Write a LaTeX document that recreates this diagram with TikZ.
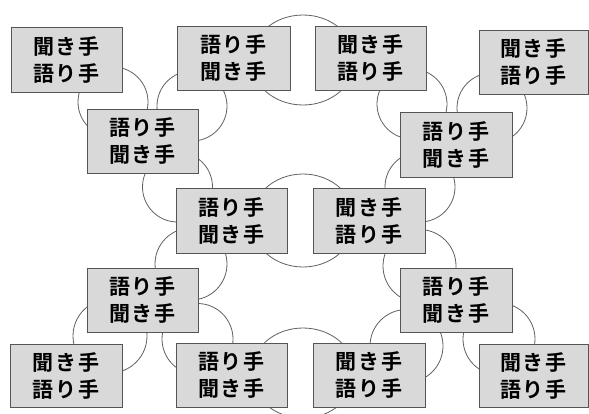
\documentclass[tikz,border=0pt]{standalone}
\usepackage{fontspec}
\newfontfamily\jpfont[LetterSpace=8]{Noto Sans CJK JP Bold}
\definecolor{boxfill}{HTML}{D9D9D9}
\definecolor{boxline}{HTML}{555555}
\definecolor{loopline}{HTML}{606060}
\tikzset{
  pairbox/.style={draw=boxline, line width=1pt, fill=boxfill, align=center,
    font=\jpfont\fontsize{21pt}{27pt}\selectfont, inner sep=0pt, text=black},
  looparc/.style={draw=loopline, line width=0.8pt},
}
\newcommand{\pbox}[6]{% name, x1, y1, x2, y2, text
  \node[pairbox, minimum width={#4-#2}, minimum height={#5-#3}] (#1) at ({(#2+#4)/2},{(#3+#5)/2}) {#6};}
\begin{document}
\begin{tikzpicture}[x=1pt,y=-1pt]
\useasboundingbox (0,0) rectangle (589,413);
% loops and rings (behind the boxes)
\draw[looparc] (303,60) ellipse [x radius=52, y radius=45];
\draw[looparc] (303,220.5) ellipse [x radius=52, y radius=46.5];
\draw[looparc] (303,373) ellipse [x radius=52, y radius=45];
\draw[looparc] (113,102) circle [radius=35];
\draw[looparc] (192,106) circle [radius=35];
\draw[looparc] (177.5,187) circle [radius=35];
\draw[looparc] (412,104) circle [radius=35];
\draw[looparc] (492,108) circle [radius=35];
\draw[looparc] (420,187) circle [radius=35];
\draw[looparc] (191,264) circle [radius=36];
\draw[looparc] (197.5,339) circle [radius=35.5];
\draw[looparc] (110,336) circle [radius=37];
\draw[looparc] (419.5,266) circle [radius=36.5];
\draw[looparc] (406.5,346) circle [radius=36.5];
\draw[looparc] (499,339) circle [radius=36];
% boxes
\pbox{b1}{11}{27}{122}{92}{聞き手\\語り手}
\pbox{b2}{177}{26}{290}{90}{語り手\\聞き手}
\pbox{b3}{315}{26}{426}{90}{聞き手\\語り手}
\pbox{b4}{479}{30}{588}{94}{聞き手\\語り手}
\pbox{l2}{87}{109}{198}{173}{語り手\\聞き手}
\pbox{r2}{400}{112}{512}{177}{語り手\\聞き手}
\pbox{cl}{176}{188}{287}{253}{語り手\\聞き手}
\pbox{cr}{313}{188}{425}{253}{聞き手\\語り手}
\pbox{l4}{87}{268}{198}{332}{語り手\\聞き手}
\pbox{r4}{400}{268}{512}{332}{語り手\\聞き手}
\pbox{bl}{10}{344}{122}{407}{聞き手\\語り手}
\pbox{bb2}{176}{343}{287}{407}{語り手\\聞き手}
\pbox{bb3}{313}{343}{425}{407}{聞き手\\語り手}
\pbox{bb4}{479}{344}{588}{407}{聞き手\\語り手}
\end{tikzpicture}
\end{document}
